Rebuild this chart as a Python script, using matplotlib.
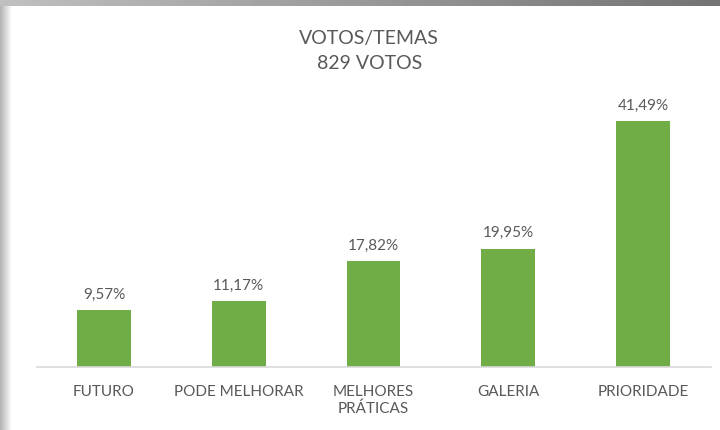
import matplotlib.pyplot as plt
import numpy as np

plt.rcParams['font.family'] = ['Lato', 'DejaVu Sans']

# dados
temas = ["FUTURO", "PODE MELHORAR", "MELHORES\nPRÁTICAS", "GALERIA", "PRIORIDADE"]
votos_pct = [9.57, 11.17, 17.82, 19.95, 41.49]
rotulos = ["9,57%", "11,17%", "17,82%", "19,95%", "41,49%"]

cinza = "#595959"
verde = "#70AD47"

fig = plt.figure(figsize=(7.2, 4.3), dpi=100)

# moldura: faixa cinza no topo e sombra na esquerda
grad = np.linspace(0.7, 1.0, 50).reshape(1, -1)
sombra = fig.add_axes([0, 0, 12 / 720, 1])
sombra.imshow(grad, aspect="auto", cmap="gray", vmin=0, vmax=1)
sombra.axis("off")
topo = fig.add_axes([0, 1 - 6 / 430, 1, 6 / 430])
topo.imshow(np.linspace(0.75, 0.45, 200).reshape(1, -1), aspect="auto", cmap="gray", vmin=0, vmax=1)
topo.axis("off")

ax = fig.add_axes([36.5 / 720, 63 / 430, 674 / 720, 267 / 430])
x = np.arange(len(temas))
ax.bar(x, votos_pct, width=0.4, color=verde)
for xi, v, r in zip(x, votos_pct, rotulos):
    ax.text(xi, v + 1.4, r, ha="center", va="bottom", fontsize=11, color=cinza)

ax.set_xlim(-0.5, len(temas) - 0.5)
ax.set_ylim(0, 45)
ax.set_xticks(x)
ax.set_xticklabels(temas, fontsize=11, color=cinza, va="top", linespacing=1.25)
ax.tick_params(axis="x", length=0, pad=13)
ax.set_yticks([])
for s in ["top", "right", "left"]:
    ax.spines[s].set_visible(False)
ax.spines["bottom"].set_color("#D9D9D9")
ax.spines["bottom"].set_linewidth(1.2)

fig.text(0.513, 1 - 51 / 430, "VOTOS/TEMAS\n829 VOTOS", ha="center", va="center",
         fontsize=14, color=cinza, linespacing=1.6)

fig.savefig("out.png", dpi=100)
